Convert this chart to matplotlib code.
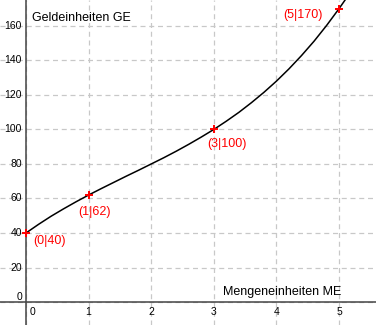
import matplotlib
matplotlib.use("Agg")
import matplotlib.pyplot as plt

kurve_x = [0.0, 0.2, 0.4, 0.6, 0.8, 1.0, 1.2, 1.4, 1.6, 1.8, 2.0, 2.2, 2.4, 2.6,
           2.8, 3.0, 3.2, 3.4, 3.6, 3.8, 4.0, 4.2, 4.4, 4.6, 4.8, 5.0, 5.1]
kurve_y = [40.0, 45.0, 49.7, 54.0, 58.1, 62.0, 65.7, 69.3, 72.9, 76.4, 80.0, 83.6,
           87.4, 91.4, 95.6, 100.0, 104.8, 109.9, 115.5, 121.5, 128.0, 135.1,
           142.8, 151.1, 160.2, 170.0, 175.2]

# markierte Punkte
punkte_x = [0, 1, 3, 5]
punkte_y = [40, 62, 100, 170]
punkt_texte = ["(0|40)", "(1|62)", "(3|100)", "(5|170)"]
text_pos = [(0.11, 35.4), (0.83, 52.2), (2.89, 91.6), (4.11, 166.4)]

x_ticks = [0, 1, 2, 3, 4, 5]
y_ticks = [0, 20, 40, 60, 80, 100, 120, 140, 160]

plt.rcParams['font.family'] = ['Liberation Sans', 'DejaVu Sans']

fig = plt.figure(figsize=(3.76, 3.25), dpi=100)
ax = fig.add_axes([0, 0, 1, 1])
ax.set_xlim(-0.415, 5.59)
ax.set_ylim(-13.3, 175)

for s in ax.spines.values():
    s.set_visible(False)

# Gitter
ax.set_xticks(x_ticks)
ax.set_yticks(y_ticks)
ax.tick_params(length=0, labelbottom=False, labelleft=False)
ax.grid(True, color='#c8c8c8', linestyle=(0, (4, 3)), linewidth=0.9)

# Achsen
ax.axhline(0, color='#444444', linewidth=1.1, zorder=3)
ax.axvline(0, color='#444444', linewidth=1.1, zorder=3)

# Achsenbeschriftung
for t in x_ticks:
    xp = t + 0.11 if t == 0 else t
    ax.text(xp, -5.8, str(t), ha='center', va='center', fontsize=7.5)
for t in y_ticks:
    yp = t + 3.0 if t == 0 else t
    ax.text(-0.065, yp, str(t), ha='right', va='center', fontsize=7.5)

ax.text(0.1, 164.6, "Geldeinheiten GE", ha='left', va='center', fontsize=9)
ax.text(5.03, 5.8, "Mengeneinheiten ME", ha='right', va='center', fontsize=9)

ax.plot(kurve_x, kurve_y, color='black', linewidth=1.1, zorder=4)
ax.plot(punkte_x, punkte_y, '+', color='red', markersize=6, markeredgewidth=1.4,
        zorder=5, clip_on=False)

for txt, (tx, ty) in zip(punkt_texte, text_pos):
    ax.text(tx, ty, txt, color='red', ha='left', va='center', fontsize=9)

fig.savefig("out.png", dpi=100)
